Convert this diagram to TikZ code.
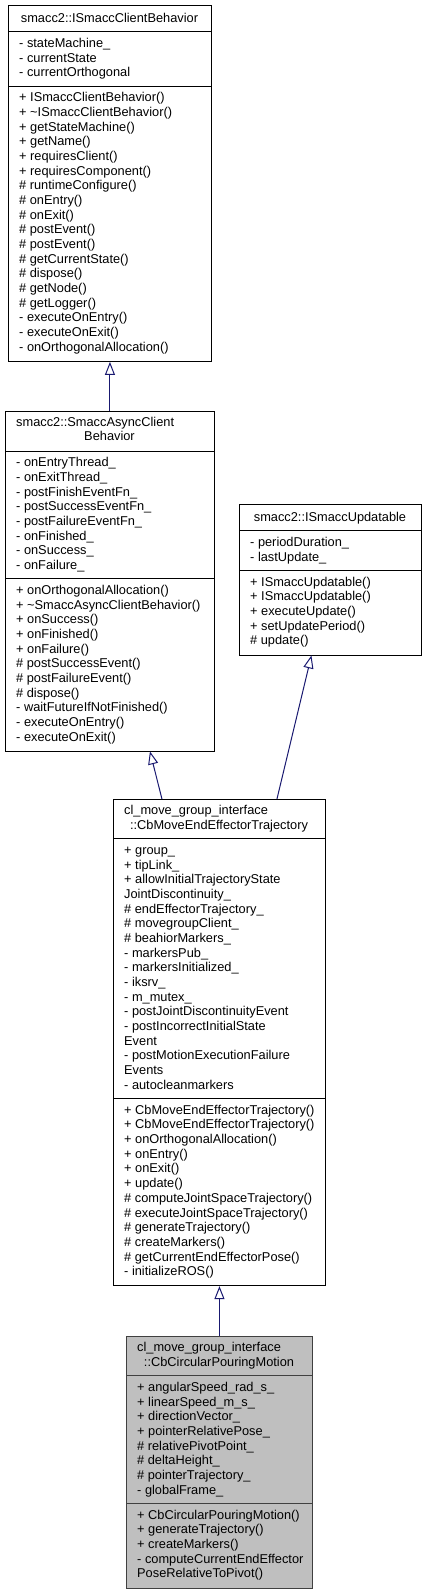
\documentclass[tikz,border=0pt]{standalone}
\usepackage{fontspec}
\setmainfont{Liberation Sans}
\usetikzlibrary{arrows.meta}
\definecolor{edgeblue}{RGB}{25,25,112}
\definecolor{curfill}{RGB}{191,191,191}
\definecolor{curline}{RGB}{64,64,64}
\newcommand{\topstrut}{\rule{0pt}{10pt}}
\tikzset{
	classbox/.style={draw=black, line width=0.9pt, rectangle, inner sep=0pt, anchor=north west},
	members/.style={anchor=north west, inner sep=0pt, align=left, font=\fontsize{12.8}{14.67}\selectfont},
	heading/.style={anchor=base, inner sep=0pt, font=\fontsize{12.8}{14.67}\selectfont},
	sep/.style={line width=0.9pt},
	inherit/.style={draw=edgeblue, line width=1pt, -{Triangle[open,length=13pt,width=10pt]}},
}
\begin{document}
\begin{tikzpicture}[x=1pt,y=-1pt]
	\useasboundingbox (0,0) rectangle (423,1593);
	
	%ISmaccClientBehavior
	\node[classbox, minimum width=203pt, minimum height=356pt] (isbeh) at (8,5) {};
	\node[heading] (isbehname) at (109.5,22.7) {smacc2::ISmaccClientBehavior};
	\draw[sep] (8,31.7) -- (211,31.7);
	\node[members] (isbehattr) at (19,37.2) {\topstrut- stateMachine\_\\- currentState\\- currentOrthogonal};
	\draw[sep] (8,86.2) -- (211,86.2);
	\node[members] (isbehops) at (19,91.7) {\topstrut+ ISmaccClientBehavior()\\+ \textasciitilde ISmaccClientBehavior()\\+ getStateMachine()\\+ getName()\\+ requiresClient()\\+ requiresComponent()\\\# runtimeConfigure()\\\# onEntry()\\\# onExit()\\\# postEvent()\\\# postEvent()\\\# getCurrentState()\\\# dispose()\\\# getNode()\\\# getLogger()\\- executeOnEntry()\\- executeOnExit()\\- onOrthogonalAllocation()};
	
	%SmaccAsyncClientBehavior
	\node[classbox, minimum width=209pt, minimum height=339.5pt] (async) at (5,411) {};
	\node[heading, anchor=base west] (asyncname) at (16,426) {smacc2::SmaccAsyncClient};
	\node[heading] (asyncname2) at (109.5,440.7) {Behavior};
	\draw[sep] (5,451) -- (214,451);
	\node[members] (asyncattr) at (16,456.5) {\topstrut- onEntryThread\_\\- onExitThread\_\\- postFinishEventFn\_\\- postSuccessEventFn\_\\- postFailureEventFn\_\\- onFinished\_\\- onSuccess\_\\- onFailure\_};
	\draw[sep] (5,578.7) -- (214,578.7);
	\node[members] (asyncops) at (16,584.4) {\topstrut+ onOrthogonalAllocation()\\+ \textasciitilde SmaccAsyncClientBehavior()\\+ onSuccess()\\+ onFinished()\\+ onFailure()\\\# postSuccessEvent()\\\# postFailureEvent()\\\# dispose()\\- waitFutureIfNotFinished()\\- executeOnEntry()\\- executeOnExit()};
	
	%ISmaccUpdatable
	\node[classbox, minimum width=182pt, minimum height=150.5pt] (updatable) at (239,504) {};
	\node[heading] (updatablename) at (330,521) {smacc2::ISmaccUpdatable};
	\draw[sep] (239,530.7) -- (421,530.7);
	\node[members] (updatableattr) at (250,536.2) {\topstrut- periodDuration\_\\- lastUpdate\_};
	\draw[sep] (239,570.8) -- (421,570.8);
	\node[members] (updatableops) at (250,576.1) {\topstrut+ ISmaccUpdatable()\\+ ISmaccUpdatable()\\+ executeUpdate()\\+ setUpdatePeriod()\\\# update()};
	
	%CbMoveEndEffectorTrajectory
	\node[classbox, minimum width=212pt, minimum height=486.2pt] (cbmove) at (113,799) {};
	\node[heading, anchor=base west] (cbmovename) at (124,814.3) {cl\_move\_group\_interface};
	\node[heading] (cbmovename2) at (219,829) {::CbMoveEndEffectorTrajectory};
	\draw[sep] (113,838.7) -- (325,838.7);
	\node[members] (cbmoveattr) at (124,844.2) {\topstrut+ group\_\\+ tipLink\_\\+ allowInitialTrajectoryState\\JointDiscontinuity\_\\\# endEffectorTrajectory\_\\\# movegroupClient\_\\\# beahiorMarkers\_\\- markersPub\_\\- markersInitialized\_\\- iksrv\_\\- m\_mutex\_\\- postJointDiscontinuityEvent\\- postIncorrectInitialState\\Event\\- postMotionExecutionFailure\\Events\\- autocleanmarkers};
	\draw[sep] (113,1098.6) -- (325,1098.6);
	\node[members] (cbmoveops) at (124,1104.1) {\topstrut+ CbMoveEndEffectorTrajectory()\\+ CbMoveEndEffectorTrajectory()\\+ onOrthogonalAllocation()\\+ onEntry()\\+ onExit()\\+ update()\\\# computeJointSpaceTrajectory()\\\# executeJointSpaceTrajectory()\\\# generateTrajectory()\\\# createMarkers()\\\# getCurrentEndEffectorPose()\\- initializeROS()};
	
	%CbCircularPouringMotion
	\node[classbox, draw=curline, fill=curfill, minimum width=186pt, minimum height=251.5pt] (pouring) at (126,1336) {};
	\node[heading, anchor=base west] (pouringname) at (137,1351.3) {cl\_move\_group\_interface};
	\node[heading] (pouringname2) at (219,1366) {::CbCircularPouringMotion};
	\draw[sep, curline] (126,1375.7) -- (312,1375.7);
	\node[members] (pouringattr) at (137,1381.2) {\topstrut+ angularSpeed\_rad\_s\_\\+ linearSpeed\_m\_s\_\\+ directionVector\_\\+ pointerRelativePose\_\\\# relativePivotPoint\_\\\# deltaHeight\_\\\# pointerTrajectory\_\\- globalFrame\_};
	\draw[sep, curline] (126,1503.6) -- (312,1503.6);
	\node[members] (pouringops) at (137,1509.1) {\topstrut+ CbCircularPouringMotion()\\+ generateTrajectory()\\+ createMarkers()\\- computeCurrentEndEffector\\PoseRelativeToPivot()};
	
	%Vererbung
	\draw[inherit] (async.north) -- (isbeh.south);
	\draw[inherit] ([xshift=-57.5pt]cbmove.north) -- ([xshift=40pt]async.south);
	\draw[inherit] ([xshift=57.5pt]cbmove.north) -- ([xshift=-19pt]updatable.south);
	\draw[inherit] (pouring.north) -- (cbmove.south);
\end{tikzpicture}
\end{document}
